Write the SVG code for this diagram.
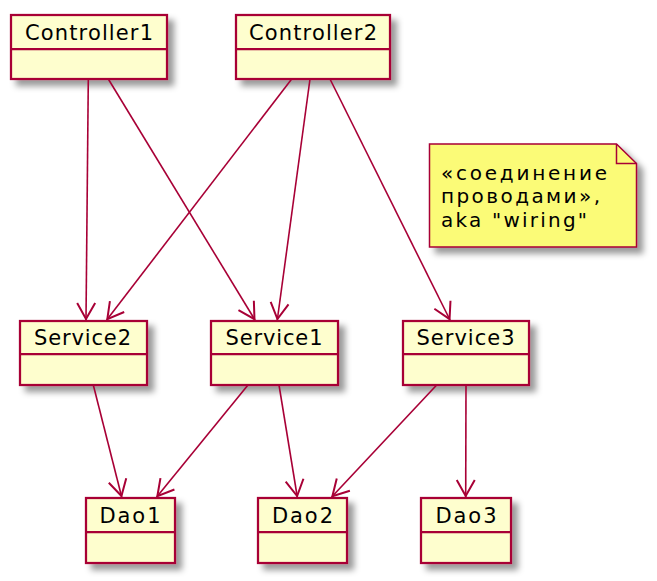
<svg xmlns="http://www.w3.org/2000/svg" width="657" height="581" viewBox="0 0 657 581">
<defs>
<filter id="sh" x="-20%" y="-20%" width="150%" height="160%">
<feDropShadow dx="6" dy="6" stdDeviation="3" flood-color="#000" flood-opacity="0.4"/>
</filter>
<marker id="arr" markerUnits="userSpaceOnUse" markerWidth="40" markerHeight="40" refX="0" refY="0" orient="auto" viewBox="-20 -20 40 40" overflow="visible">
<path d="M-17,-9 L-1,0 L-17,9" fill="none" stroke="#A80036" stroke-width="2" stroke-linejoin="miter"/>
</marker>
</defs>
<style>
.box{fill:#FEFECE;stroke:#A80036;stroke-width:2.25;filter:url(#sh)}
.div{stroke:#A80036;stroke-width:2.25}
.lbl{font-family:"DejaVu Sans",sans-serif;font-size:21px;fill:#000;text-anchor:middle}
.note{fill:#FBFB77;stroke:#A80036;stroke-width:1.5;filter:url(#sh)}
.nt{font-family:"DejaVu Sans",sans-serif;font-size:20px;fill:#000}
.edge{fill:none;stroke:#A80036;stroke-width:1.6;marker-end:url(#arr)}
</style>
<rect width="657" height="581" fill="#fff"/>
<g id="Controller1">
<rect class="box" x="11" y="15" width="156" height="64"/>
<line class="div" x1="11" y1="49" x2="167" y2="49"/>
<text class="lbl" x="89" y="40" textLength="128" lengthAdjust="spacing">Controller1</text>
</g>
<g id="Controller2">
<rect class="box" x="236" y="15" width="154" height="64"/>
<line class="div" x1="236" y1="49" x2="390" y2="49"/>
<text class="lbl" x="313" y="40" textLength="128" lengthAdjust="spacing">Controller2</text>
</g>
<g id="Service2">
<rect class="box" x="20" y="321" width="127" height="64"/>
<line class="div" x1="20" y1="354" x2="147" y2="354"/>
<text class="lbl" x="82.5" y="345" textLength="97" lengthAdjust="spacing">Service2</text>
</g>
<g id="Service1">
<rect class="box" x="211" y="321" width="127" height="64"/>
<line class="div" x1="211" y1="354" x2="338" y2="354"/>
<text class="lbl" x="274" y="345" textLength="97" lengthAdjust="spacing">Service1</text>
</g>
<g id="Service3">
<rect class="box" x="403" y="321" width="126" height="64"/>
<line class="div" x1="403" y1="354" x2="529" y2="354"/>
<text class="lbl" x="465.5" y="345" textLength="98" lengthAdjust="spacing">Service3</text>
</g>
<g id="Dao1">
<rect class="box" x="86" y="498" width="89" height="65"/>
<line class="div" x1="86" y1="532" x2="175" y2="532"/>
<text class="lbl" x="130" y="523" textLength="61" lengthAdjust="spacing">Dao1</text>
</g>
<g id="Dao2">
<rect class="box" x="258" y="498" width="89" height="65"/>
<line class="div" x1="258" y1="532" x2="347" y2="532"/>
<text class="lbl" x="302.5" y="523" textLength="61" lengthAdjust="spacing">Dao2</text>
</g>
<g id="Dao3">
<rect class="box" x="421" y="498" width="90" height="65"/>
<line class="div" x1="421" y1="532" x2="511" y2="532"/>
<text class="lbl" x="466" y="523" textLength="61" lengthAdjust="spacing">Dao3</text>
</g>
<g id="note">
<path class="note" d="M429.5,144 L616.5,144 L636.5,163.5 L636.5,247 L429.5,247 Z"/>
<path d="M616.5,144 L616.5,163.5 L636.5,163.5" fill="none" stroke="#A80036" stroke-width="1.5"/>
<text class="nt" x="441" y="180" textLength="166" lengthAdjust="spacing">«соединение</text>
<text class="nt" x="441" y="203.3" textLength="159" lengthAdjust="spacing">проводами»,</text>
<text class="nt" x="441" y="226.6" textLength="146" lengthAdjust="spacing">aka "wiring"</text>
</g>
<g id="connectors">
<path class="edge" d="M88.3,79 L86,320"/>
<path class="edge" d="M108.3,79 L255,320"/>
<path class="edge" d="M291.7,79 L106.7,320"/>
<path class="edge" d="M310,79 L277.3,320"/>
<path class="edge" d="M330,79 L450,320"/>
<path class="edge" d="M93.3,385 L121.7,497"/>
<path class="edge" d="M248,385 L156.7,497"/>
<path class="edge" d="M279,385 L297.3,497"/>
<path class="edge" d="M436.7,385 L331.7,497"/>
<path class="edge" d="M466,385 L465.7,497"/>
</g>
</svg>
